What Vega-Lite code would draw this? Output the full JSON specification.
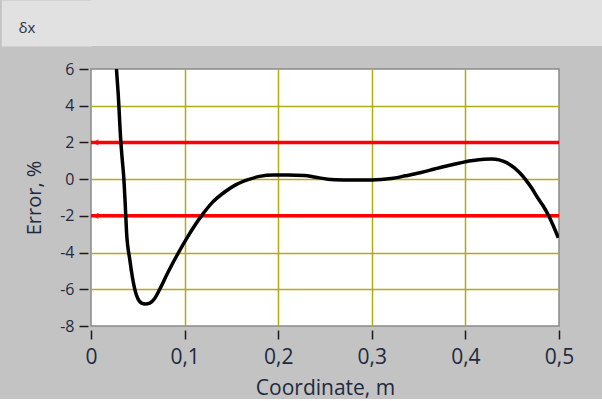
{
  "$schema": "https://vega.github.io/schema/vega-lite/v6.json",
  "background": "#c3c3c3",
  "padding": 0,
  "autosize": {"type": "pad"},
  "spacing": 14,
  "datasets": {
    "curve": [
      {"x": 0.0272, "y": 6.0}, {"x": 0.029, "y": 4.7}, {"x": 0.0318, "y": 2.1}, {"x": 0.0335, "y": 1.0},
      {"x": 0.035, "y": 0.1}, {"x": 0.0365, "y": -1.3}, {"x": 0.038, "y": -2.9}, {"x": 0.0415, "y": -4.4},
      {"x": 0.0468, "y": -6.0}, {"x": 0.05, "y": -6.5}, {"x": 0.054, "y": -6.75}, {"x": 0.058, "y": -6.8},
      {"x": 0.0628, "y": -6.75}, {"x": 0.068, "y": -6.5}, {"x": 0.0734, "y": -6.0}, {"x": 0.082, "y": -5.1},
      {"x": 0.0913, "y": -4.2}, {"x": 0.1037, "y": -3.1}, {"x": 0.118, "y": -2.0}, {"x": 0.13, "y": -1.25},
      {"x": 0.1428, "y": -0.7}, {"x": 0.155, "y": -0.3}, {"x": 0.1678, "y": -0.03}, {"x": 0.18, "y": 0.15},
      {"x": 0.195, "y": 0.22}, {"x": 0.21, "y": 0.22}, {"x": 0.228, "y": 0.2}, {"x": 0.24, "y": 0.1},
      {"x": 0.253, "y": 0.0}, {"x": 0.27, "y": -0.04}, {"x": 0.29, "y": -0.05}, {"x": 0.31, "y": -0.02},
      {"x": 0.3207, "y": 0.03}, {"x": 0.336, "y": 0.18}, {"x": 0.3527, "y": 0.36}, {"x": 0.367, "y": 0.55},
      {"x": 0.381, "y": 0.73}, {"x": 0.394, "y": 0.88}, {"x": 0.406, "y": 1.0}, {"x": 0.42, "y": 1.09},
      {"x": 0.428, "y": 1.1}, {"x": 0.436, "y": 1.05}, {"x": 0.444, "y": 0.9}, {"x": 0.452, "y": 0.63},
      {"x": 0.4585, "y": 0.32}, {"x": 0.4647, "y": -0.05}, {"x": 0.471, "y": -0.5}, {"x": 0.477, "y": -1.0},
      {"x": 0.483, "y": -1.45}, {"x": 0.488, "y": -1.9}, {"x": 0.494, "y": -2.55}, {"x": 0.4993, "y": -3.2}
    ],
    "limits": [{"y": 2}, {"y": -2}]
  },
  "vconcat": [
    {
      "width": 512.5,
      "height": 46,
      "data": {"values": [{"t": "", "v": 0}]},
      "view": {"fill": "#e1e1e1", "stroke": null},
      "title": {"text": "δx", "anchor": "start", "frame": "group", "orient": "top", "offset": -43, "dx": -72.5, "baseline": "middle", "fontSize": 15, "font": "Open Sans", "fontWeight": "normal", "color": "#283040"},
      "mark": {"type": "text"},
      "encoding": {
        "text": {"field": "t"},
        "y": {
          "field": "v", "type": "quantitative",
          "axis": {"title": null, "labels": false, "ticks": false, "grid": false, "domain": true, "domainColor": "#e1e1e1", "domainWidth": 90, "domainCap": "butt", "offset": 44.75}
        }
      }
    },
    {
      "width": 468,
      "height": 257,
      "view": {"fill": "white", "stroke": "#8a8a8a", "strokeWidth": 1.5},
      "layer": [
        {
          "data": {"name": "limits"},
          "mark": {"type": "rule", "color": "#ff0000", "strokeWidth": 3.5},
          "encoding": {
            "y": {
              "field": "y", "type": "quantitative",
              "scale": {"domain": [-8, 6], "nice": false, "zero": false},
              "axis": {
                "title": ["", "Error, %"],
                "titleLineHeight": 23,
                "values": [-8, -6, -4, -2, 0, 2, 4, 6],
                "tickCount": 8,
                "labelExpr": "'' + datum.value",
                "domain": false, "offset": 3, "tickSize": 9, "tickWidth": 1.5, "tickColor": "#1a1a1a",
                "grid": true,
                "gridColor": {"condition": {"test": "datum.value <= -8 || datum.value >= 6", "value": "transparent"}, "value": "#b0ab18"},
                "gridWidth": 1.5,
                "labelFont": "Open Sans", "labelFontSize": 16, "labelColor": "#1e2a40", "labelPadding": 5,
                "labelOverlap": false, "labelBound": false,
                "titleFont": "Open Sans", "titleFontSize": 20, "titleFontWeight": "normal", "titleColor": "#1e2a40", "titlePadding": 15
              }
            }
          }
        },
        {
          "data": {"name": "curve"},
          "mark": {"type": "line", "color": "black", "strokeWidth": 3.5, "clip": true, "interpolate": "monotone"},
          "encoding": {
            "x": {
              "field": "x", "type": "quantitative",
              "scale": {"domain": [0, 0.5], "nice": false, "zero": false},
              "axis": {
                "title": "Coordinate, m",
                "values": [0, 0.1, 0.2, 0.3, 0.4, 0.5],
                "labelExpr": "datum.value == 0 ? '0' : replace(format(datum.value, '.1f'), '.', ',')",
                "domain": false, "offset": 4, "tickSize": 9, "tickWidth": 1.5, "tickColor": "#1a1a1a",
                "grid": true,
                "gridColor": {"condition": {"test": "datum.value < 0.001 || datum.value > 0.499", "value": "transparent"}, "value": "#b0ab18"},
                "gridWidth": 1.5,
                "labelFont": "Open Sans", "labelFontSize": 21, "labelColor": "#1e2a40", "labelPadding": 7,
                "labelFlush": false, "labelOverlap": false,
                "titleFont": "Open Sans", "titleFontSize": 21, "titleFontWeight": "normal", "titleColor": "#1e2a40", "titlePadding": 10
              }
            },
            "y": {"field": "y", "type": "quantitative"}
          }
        },
        {
          "data": {"name": "limits"},
          "mark": {"type": "point", "shape": "M0.6,-0.8 L-1,0 L0.6,0.8 M-1,0 L1,0", "filled": false, "color": "#ff0000", "strokeWidth": 1.2, "size": 40},
          "encoding": {"y": {"field": "y", "type": "quantitative"}, "x": {"datum": 0.006, "type": "quantitative"}}
        }
      ]
    }
  ]
}
